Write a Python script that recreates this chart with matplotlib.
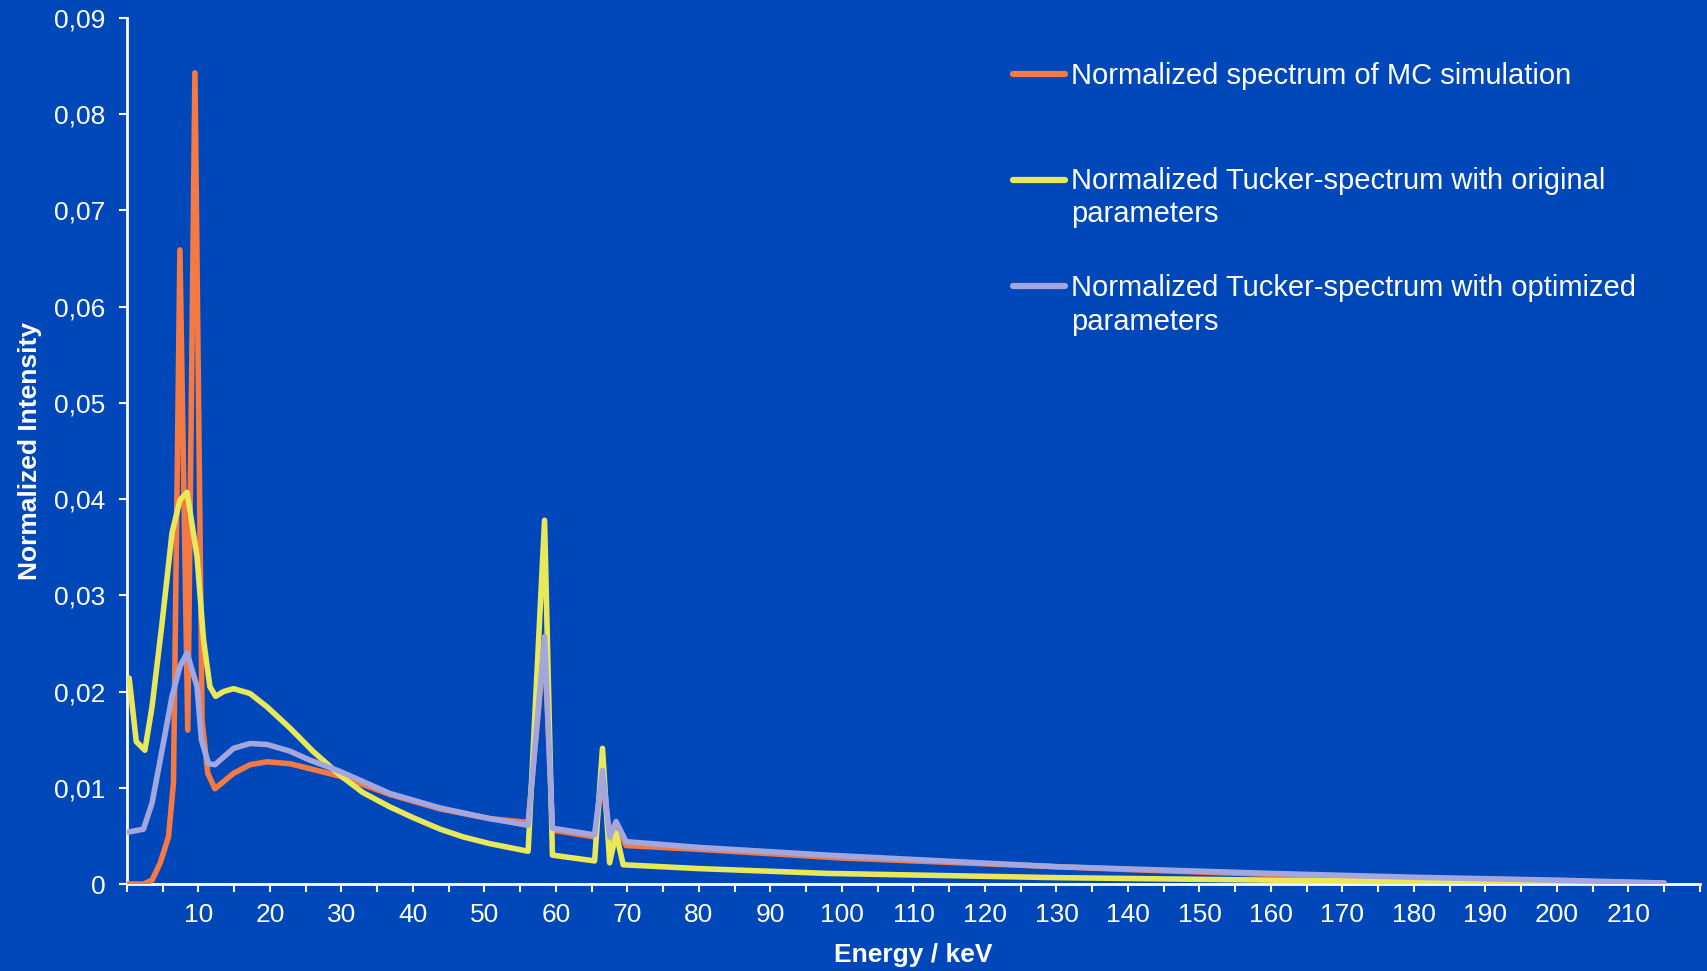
import matplotlib
matplotlib.use("Agg")
import matplotlib.pyplot as plt
from matplotlib.lines import Line2D
from matplotlib.ticker import MultipleLocator, FixedLocator, FuncFormatter

# ---- data ----
mc_energy = [0, 2.3, 3.5, 4.65, 5.8, 6.5, 7.4, 8.5, 9.5, 10.5, 11.3, 12.3, 14.9, 17.2, 19.6,
             22.8, 25.5, 29.8, 36.8, 43.8, 50.7, 56.1, 58.4, 59.5, 65.4, 66.5, 67.5, 68.4,
             69.8, 80, 100, 120, 140, 160, 180, 200, 215]
mc_intensity = [0.0000, 0.0000, 0.0004, 0.0022, 0.0049, 0.0105, 0.0659, 0.0160, 0.0843,
                0.0170, 0.0115, 0.0099, 0.0115, 0.0124, 0.0127, 0.0125, 0.0120, 0.0112,
                0.0093, 0.0078, 0.0068, 0.0064, 0.0250, 0.0056, 0.0049, 0.0110, 0.0047,
                0.0060, 0.0040, 0.0036, 0.0027, 0.0021, 0.0015, 0.0010, 0.0006, 0.0003,
                0.0001]

orig_energy = [0.3, 1.3, 2.5, 3.5, 4.9, 6.3, 7.4, 8.4, 9.8, 10.7, 11.6, 12.4, 13.5, 14.9,
               17.2, 19.6, 22.8, 26, 29.8, 33, 36.8, 40, 43.8, 47, 50.7, 56.1, 58.4, 59.5,
               65.4, 66.5, 67.5, 68.4, 69.4, 80, 98, 130, 160, 180, 200, 215]
orig_intensity = [0.0214, 0.0148, 0.0139, 0.0184, 0.0271, 0.0365, 0.0399, 0.0407, 0.0340,
                  0.0254, 0.0205, 0.0195, 0.0200, 0.0203, 0.0198, 0.0184, 0.0162, 0.0138,
                  0.0113, 0.0095, 0.0080, 0.0069, 0.0057, 0.0049, 0.0042, 0.0034, 0.0378,
                  0.0030, 0.0024, 0.0141, 0.0022, 0.0053, 0.0020, 0.0016, 0.0011, 0.00066,
                  0.0004, 0.00025, 0.0001, 0.0000]

opt_energy = [0.2, 2.3, 3.5, 4.9, 6.3, 7.4, 8.4, 9.8, 10.4, 11.4, 12.3, 14.9, 17.2, 19.6,
              22.8, 25.5, 29.8, 36.8, 43.8, 50.7, 56.1, 58.4, 59.5, 65.4, 66.5, 67.5, 68.4,
              69.8, 80, 98, 130, 160, 180, 200, 215]
opt_intensity = [0.0054, 0.0057, 0.0084, 0.0139, 0.0195, 0.0226, 0.0240, 0.0205, 0.0150,
                 0.0125, 0.0124, 0.0141, 0.0146, 0.0145, 0.0138, 0.0129, 0.0117, 0.0094,
                 0.0079, 0.0068, 0.0061, 0.0257, 0.0058, 0.0051, 0.0118, 0.0049, 0.0065,
                 0.0044, 0.0038, 0.0030, 0.0018, 0.0011, 0.0007, 0.0004, 0.0001]

series_labels = [["Normalized spectrum of MC simulation"],
                 ["Normalized Tucker-spectrum with original", "parameters"],
                 ["Normalized Tucker-spectrum with optimized", "parameters"]]
x_tick_labels = list(range(10, 220, 10))

# ---- style ----
BG = "#0048B9"
COLORS = ["#F47942", "#E8E85A", "#A4A6DE"]
FONT = ["Liberation Sans", "DejaVu Sans"]
plt.rcParams["font.family"] = FONT

W, H = 1708, 971
X0, X1, Y0, Y1 = 127, 1700, 884, 18
fig = plt.figure(figsize=(W / 100, H / 100), dpi=100, facecolor=BG)
ax = fig.add_axes([X0 / W, 1 - Y0 / H, (X1 - X0) / W, (Y0 - Y1) / H])
ax.set_facecolor(BG)

lw = 4.0
for xs, ys, c, z in [(mc_energy, mc_intensity, COLORS[0], 3),
                     (orig_energy, orig_intensity, COLORS[1], 4),
                     (opt_energy, opt_intensity, COLORS[2], 5)]:
    ax.plot(xs, ys, color=c, lw=lw, solid_joinstyle="round",
            solid_capstyle="round", zorder=z)

ax.set_xlim(0, 220)
ax.set_ylim(0, 0.09)
for s in ["top", "right"]:
    ax.spines[s].set_visible(False)
for s in ["left", "bottom"]:
    ax.spines[s].set_color("white")
    ax.spines[s].set_linewidth(2)

ax.xaxis.set_major_locator(FixedLocator(x_tick_labels))
ax.xaxis.set_minor_locator(MultipleLocator(5))
ax.set_xticklabels([str(v) for v in x_tick_labels])
ax.yaxis.set_major_locator(MultipleLocator(0.01))
ax.yaxis.set_major_formatter(FuncFormatter(
    lambda v, p: "0" if abs(v) < 1e-9 else f"{v:.2f}".replace(".", ",")))

ax.tick_params(axis="both", which="both", colors="white", direction="out",
               length=5.5, width=1.5)
ax.tick_params(axis="x", which="major", labelsize=19, pad=8)
ax.tick_params(axis="y", which="major", labelsize=19, pad=10)
for lab in ax.get_xticklabels() + ax.get_yticklabels():
    lab.set_color("white")

ax.set_xlabel("Energy / keV", color="white", fontsize=19, fontweight="bold",
              va="baseline")
ax.set_ylabel("Normalized Intensity", color="white", fontsize=19, fontweight="bold",
              va="center")
ax.xaxis.set_label_coords(0.5, -(962 - Y0) / (Y0 - Y1))
ax.yaxis.set_label_coords(-(X0 - 30) / (X1 - X0), 0.5)

# ---- legend (manual) ----
baselines = [[83.5], [189, 222.5], [296, 329.5]]
for c, lines, bl in zip(COLORS, series_labels, baselines):
    fy = 1 - (bl[0] - 9.5) / H
    fig.add_artist(Line2D([1013 / W, 1065 / W], [fy, fy], color=c, lw=4.5,
                          solid_capstyle="round", transform=fig.transFigure))
    for txt, b in zip(lines, bl):
        fig.text(1071 / W, 1 - b / H, txt, color="white", fontsize=21,
                 va="baseline", ha="left")

fig.savefig("out.png", dpi=100, facecolor=BG)
